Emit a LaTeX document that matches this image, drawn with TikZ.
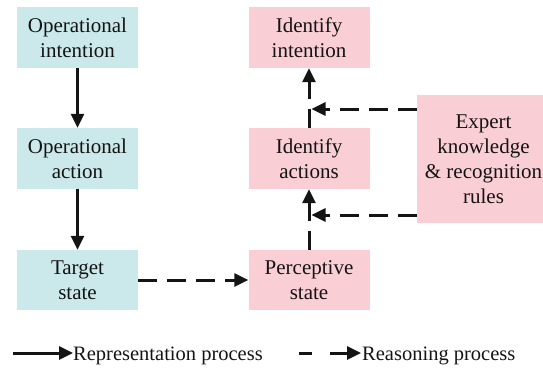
\documentclass[tikz,border=0pt]{standalone}
\usepackage{fontspec}
\setmainfont{Liberation Serif}
\usetikzlibrary{arrows.meta}
\definecolor{opblue}{RGB}{203,232,234}
\definecolor{idpink}{RGB}{249,206,213}
\definecolor{ink}{RGB}{20,20,20}
\tikzset{
  box/.style={fill=#1, draw=none, minimum width=121pt, minimum height=61pt,
    inner sep=0pt, align=center, text=ink,
    font=\fontsize{21}{25}\selectfont},
  legendtext/.style={anchor=base west, inner sep=0pt, text=ink,
    font=\fontsize{20.5}{25}\selectfont},
  solidarrow/.style={line width=3pt, draw=ink,
    -{Triangle[length=14pt,width=13pt]}},
  dasharrow/.style={line width=3pt, draw=ink, dash pattern=on 19pt off 10pt,
    -{Triangle[length=14pt,width=13pt]}},
}
\begin{document}
\begin{tikzpicture}[x=1pt,y=-1pt]
\useasboundingbox (0,0) rectangle (543,367);
\clip (0,0) rectangle (543,367);

% operator side
\node[box=opblue] (oi) at (77.5,37.5) {Operational\\intention};
\node[box=opblue] (oa) at (77.5,158.5) {Operational\\action};
\node[box=opblue, minimum height=60pt] (ts) at (77.5,280) {Target\\state};

% recognition side
\node[box=idpink] (ii) at (309,37.5) {Identify\\intention};
\node[box=idpink] (ia) at (309,158.5) {Identify\\actions};
\node[box=idpink, minimum height=60pt] (ps) at (309,280) {Perceptive\\state};
\node[box=idpink, minimum width=133pt, minimum height=128pt] (ek) at (483.5,159)
  {Expert\\knowledge\\\& recognition\\rules};

% representation process
\draw[solidarrow] (oi) -- (oa);
\draw[solidarrow] (oa) -- (ts);

% reasoning process
\draw[dasharrow] (ts) -- (ps);
\draw[dasharrow] (ps) -- (ia);
\draw[dasharrow] (ia) -- (ii);

% knowledge feeding the two inference steps
\coordinate (kup) at (311.5,109);
\coordinate (klow) at (311.5,215);
\draw[dasharrow] (ek.west |- kup) -- (kup);
\draw[dasharrow] (ek.west |- klow) -- (klow);

% legend
\coordinate (lsa) at (13,353);
\coordinate (lsb) at (73,353);
\draw[solidarrow] (lsa) -- (lsb);
\node[legendtext] (lst) at (73,360) {Representation process};

\coordinate (lda) at (299,353);
\coordinate (ldb) at (361,353);
\draw[solidarrow, dash pattern=on 13pt off 18pt on 40pt off 0pt] (lda) -- (ldb);
\node[legendtext] (ldt) at (362,360) {Reasoning process};
\end{tikzpicture}
\end{document}
